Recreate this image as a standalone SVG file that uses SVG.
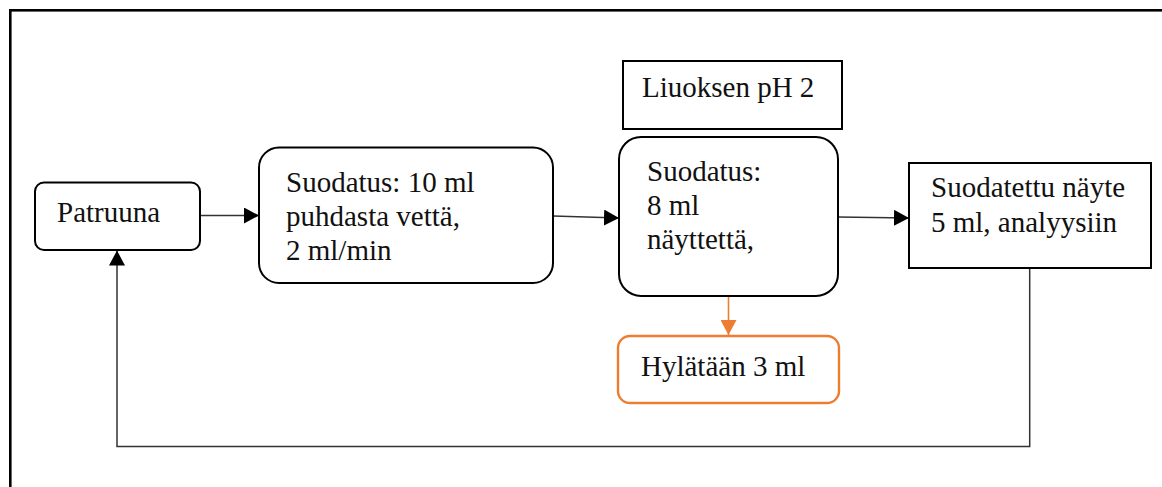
<svg xmlns="http://www.w3.org/2000/svg" width="1162" height="487" viewBox="0 0 1162 487">
  <defs>
    <marker id="arrowBlack" markerWidth="16" markerHeight="16" refX="15" refY="8" orient="auto" markerUnits="userSpaceOnUse">
      <path d="M0,0 L15,8 L0,16 Z" fill="#000"/>
    </marker>
    <marker id="arrowOrange" markerWidth="16" markerHeight="16" refX="15" refY="8" orient="auto" markerUnits="userSpaceOnUse">
      <path d="M0,0 L15,8 L0,16 Z" fill="#ED7D31"/>
    </marker>
  </defs>
  <style>
    .frame { fill: none; stroke: #000; stroke-width: 2.6; }
    .box { fill: #fff; stroke: #000; stroke-width: 2; }
    .orange { fill: #fff; stroke: #ED7D31; stroke-width: 2.4; }
    .lbl { font-family: "Liberation Serif", "Times New Roman", serif; font-size: 29px; fill: #111; }
    .conn { fill: none; stroke: #333; stroke-width: 1.5; }
    .conn-o { fill: none; stroke: #ED7D31; stroke-width: 1.6; }
  </style>

  <rect width="1162" height="487" fill="#fff"/>
  <!-- outer frame (continues past the right and bottom edges) -->
  <rect class="frame" x="10.3" y="10.3" width="1200" height="600"/>

  <g id="connectors">
    <line class="conn" x1="200" y1="215.5" x2="259" y2="215.5" marker-end="url(#arrowBlack)"/>
    <line class="conn" x1="553" y1="216" x2="619" y2="218" marker-end="url(#arrowBlack)"/>
    <line class="conn" x1="838" y1="217" x2="909" y2="218" marker-end="url(#arrowBlack)"/>
    <polyline class="conn" points="1029.7,268 1029.7,446.5 117,446.5 117,250.5" marker-end="url(#arrowBlack)"/>
    <line class="conn-o" x1="728.5" y1="296" x2="728.5" y2="335" marker-end="url(#arrowOrange)"/>
  </g>

  <g id="patruuna">
    <rect class="box" x="35" y="182.5" width="165" height="67.5" rx="9"/>
    <text class="lbl" x="57" y="222">Patruuna</text>
  </g>

  <g id="suodatus-vesi">
    <rect class="box" x="259" y="147.5" width="294" height="135.5" rx="20"/>
    <text class="lbl" x="286" y="192">Suodatus: 10 ml</text>
    <text class="lbl" x="286" y="226">puhdasta vettä,</text>
    <text class="lbl" x="286" y="260">2 ml/min</text>
  </g>

  <g id="liuoksen-ph">
    <rect class="box" x="623" y="61" width="219" height="68"/>
    <text class="lbl" x="642" y="97">Liuoksen pH 2</text>
  </g>

  <g id="suodatus-nayte">
    <rect class="box" x="619" y="137" width="219" height="159" rx="22"/>
    <text class="lbl" x="647" y="181">Suodatus:</text>
    <text class="lbl" x="647" y="215">8 ml</text>
    <text class="lbl" x="647" y="249">näyttettä,</text>
  </g>

  <g id="suodatettu-nayte">
    <rect class="box" x="909" y="163" width="242" height="105"/>
    <text class="lbl" x="931" y="197">Suodatettu näyte</text>
    <text class="lbl" x="931" y="232">5 ml, analyysiin</text>
  </g>

  <g id="hylataan">
    <rect class="orange" x="618" y="336" width="221" height="67" rx="12"/>
    <text class="lbl" x="641" y="376">Hylätään 3 ml</text>
  </g>
</svg>
